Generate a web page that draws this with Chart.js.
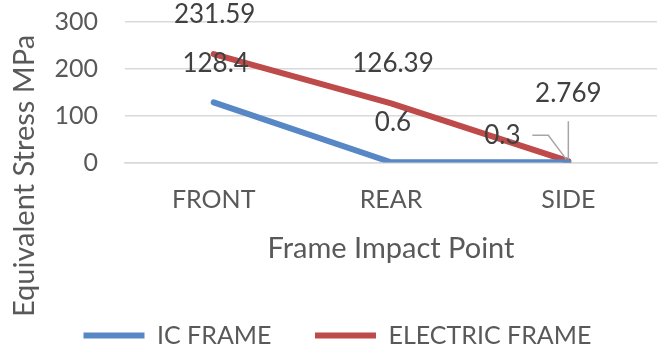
<!DOCTYPE html>
<html>
<head>
<meta charset="utf-8">
<script src="https://cdn.jsdelivr.net/npm/chart.js@4.4.1/dist/chart.umd.min.js"></script>
<style>
  html, body { margin: 0; padding: 0; background: #ffffff; }
  #wrap { width: 661px; height: 350px; }
</style>
</head>
<body>
<div id="wrap"><canvas id="c" width="661" height="350"></canvas></div>
<script>
// Impact points along the frame
const categories = ['FRONT', 'REAR', 'SIDE'];
// Equivalent stress (MPa) per frame type
const icFrame = [128.4, 0.6, 0.3];
const electricFrame = [231.59, 126.39, 2.769];
// Value axis ticks
const yTicks = [0, 100, 200, 300];

const FONT = 'Lato, "Open Sans", sans-serif';
const TEXT = '#595959';
const LABEL = '#404040';

// Label placement per dataset/point: offset from the point, optional leader line
const labelOffsets = [
  [{dx: 2, dy: -39}, {dx: 2, dy: -40}, {dx: -66, dy: -27, leader: 'elbow'}],
  [{dx: 1, dy: -39}, {dx: 2, dy: -40}, {dx: 0, dy: -68, leader: 'vertical'}]
];

const valueLabels = {
  id: 'valueLabels',
  afterDatasetsDraw(chart) {
    const ctx = chart.ctx;
    ctx.save();
    ctx.font = '26px ' + FONT;
    ctx.textAlign = 'center';
    ctx.textBaseline = 'middle';
    chart.data.datasets.forEach((ds, di) => {
      const meta = chart.getDatasetMeta(di);
      meta.data.forEach((pt, i) => {
        const o = labelOffsets[di][i];
        const x = pt.x + o.dx, y = pt.y + o.dy;
        if (o.leader) {
          ctx.strokeStyle = '#a6a6a6';
          ctx.lineWidth = 1.5;
          ctx.beginPath();
          if (o.leader === 'elbow') {
            ctx.moveTo(x + 30, y);
            ctx.lineTo(x + 46, y);
            ctx.lineTo(pt.x - 2, pt.y - 3);
          } else {
            ctx.moveTo(pt.x, y + 28);
            ctx.lineTo(pt.x, pt.y - 2);
          }
          ctx.stroke();
        }
        ctx.fillStyle = LABEL;
        ctx.fillText(String(ds.data[i]), x, y);
      });
    });
    ctx.restore();
  }
};

// Vertical value-axis title, centred on the whole figure height
const yTitle = {
  id: 'yTitle',
  afterDraw(chart) {
    const ctx = chart.ctx;
    ctx.save();
    ctx.translate(25, 176);
    ctx.rotate(-Math.PI / 2);
    ctx.font = '29px ' + FONT;
    ctx.fillStyle = TEXT;
    ctx.textAlign = 'center';
    ctx.textBaseline = 'middle';
    ctx.fillText('Equivalent Stress MPa', 0, 0);
    ctx.restore();
  }
};

new Chart(document.getElementById('c'), {
  type: 'line',
  data: {
    labels: categories,
    datasets: [
      {
        label: 'IC FRAME',
        data: icFrame,
        borderColor: '#5787c4',
        backgroundColor: '#5787c4',
        borderWidth: 6,
        borderCapStyle: 'round',
        borderJoinStyle: 'round',
        pointRadius: 0,
        tension: 0
      },
      {
        label: 'ELECTRIC FRAME',
        data: electricFrame,
        borderColor: '#be4b4a',
        backgroundColor: '#be4b4a',
        borderWidth: 6,
        borderCapStyle: 'round',
        borderJoinStyle: 'round',
        pointRadius: 0,
        tension: 0
      }
    ]
  },
  options: {
    responsive: false,
    animation: false,
    layout: { padding: { left: 40, right: 4, top: 22, bottom: -8 } },
    plugins: {
      tooltip: { enabled: false },
      legend: {
        position: 'bottom',
        align: 'start',
        labels: {
          usePointStyle: true,
          pointStyle: 'line',
          pointStyleWidth: 61,
          padding: 43.5,
          color: TEXT,
          font: { family: FONT, size: 25, lineHeight: 1 }
        }
      }
    },
    scales: {
      x: {
        offset: true,
        grid: { display: false, drawTicks: false },
        border: { display: true, color: '#d9d9d9', width: 1.5 },
        ticks: { color: TEXT, padding: 22, font: { family: FONT, size: 25 } },
        title: {
          display: true,
          text: 'Frame Impact Point',
          color: TEXT,
          font: { family: FONT, size: 29 },
          padding: { top: 0, bottom: 13 }
        },
        afterFit(scale) { scale.height = 117; }
      },
      y: {
        min: 0,
        max: 300,
        afterBuildTicks(scale) { scale.ticks = yTicks.map(v => ({ value: v })); },
        grid: { color: '#d9d9d9', lineWidth: 1.5, drawTicks: false },
        border: { display: false },
        ticks: { color: TEXT, padding: 27, font: { family: FONT, size: 25 } },
        afterFit(scale) {
          scale.width = 85;
          scale.paddingTop = 0;
          scale.paddingBottom = 0;
        }
      }
    }
  },
  plugins: [valueLabels, yTitle]
});
</script>
</body>
</html>
